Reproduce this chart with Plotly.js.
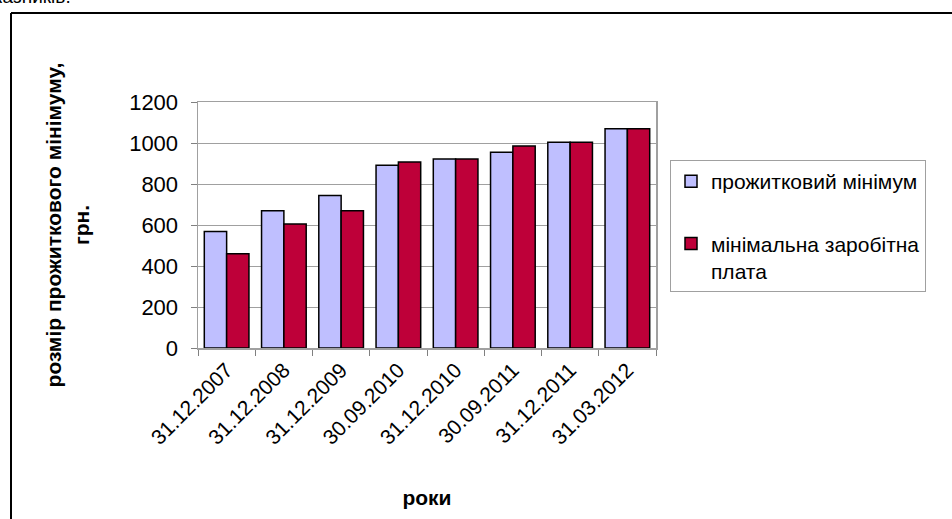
<!DOCTYPE html>
<html>
<head>
<meta charset="utf-8">
<script src="https://cdn.plot.ly/plotly-3.0.1.min.js"></script>
<style>
html,body{margin:0;padding:0;background:#fff;}
#chart{width:952px;height:519px;}
</style>
</head>
<body>
<div id="chart"></div>
<script>
var categories = ['31.12.2007','31.12.2008','31.12.2009','30.09.2010','31.12.2010','30.09.2011','31.12.2011','31.03.2012'];
var subsistenceMinimum = [568, 669, 744, 892, 922, 955, 1004, 1070];
var minimumWage = [460, 605, 669, 907, 922, 985, 1004, 1070];
var seriesNames = ['прожитковий мінімум', 'мінімальна заробітна<br>плата'];
var yTicks = [0, 200, 400, 600, 800, 1000, 1200];

var FONT = 'Liberation Sans, Arial, sans-serif';
// pixel helpers (plot area 198..656 x, 102..348 y)
var L = 198, R = 656, T = 102, B = 348;
function px(x){ return (x - L) / (R - L); }
function py(y){ return (B - y) / (B - T); }

var traces = [
  {type:'bar', x:categories, y:subsistenceMinimum, name:seriesNames[0], legendgroup:'a',
   marker:{color:'#BFBFFF', line:{color:'#000', width:1.5}}},
  {type:'bar', x:categories, y:minimumWage, name:seriesNames[1], legendgroup:'b',
   marker:{color:'#BE0039', line:{color:'#000', width:1.5}}}
];

var layout = {
  width:952, height:519,
  margin:{l:L, r:952-R, t:T, b:519-B},
  paper_bgcolor:'#fff', plot_bgcolor:'#fff',
  font:{family:FONT, color:'#000', size:19},
  barmode:'group', bargap:0.22, bargroupgap:0,
  showlegend:true,
  legend:{x:px(670), y:py(160), xanchor:'left', yanchor:'top',
    bordercolor:'#a0a0a0', borderwidth:1, bgcolor:'#fff',
    font:{family:FONT, size:21, color:'#000'},
    traceorder:'grouped', tracegroupgap:32, valign:'top'},
  xaxis:{type:'category', tickangle:-45, tickson:'boundaries',
    ticks:'outside', ticklen:6, tickcolor:'#808080',
    showline:true, linecolor:'#a0a0a0', linewidth:1.5, mirror:true,
    showgrid:false, automargin:false,
    tickfont:{family:FONT, size:21, color:'#000'},
    title:{text:'<b>роки</b>', font:{family:FONT, size:21, color:'#000'}, standoff:42}},
  yaxis:{range:[0,1200], tickvals:yTicks, ticktext:yTicks.map(String),
    ticks:'outside', ticklen:6, tickcolor:'#808080',
    showline:true, linecolor:'#a0a0a0', linewidth:1.5, mirror:true,
    showgrid:true, gridcolor:'#a0a0a0', gridwidth:1, zeroline:false,
    automargin:false, ticklabelstandoff:8,
    tickfont:{family:FONT, size:22, color:'#000'},
    title:{text:'<b>розмір прожиткового мінімуму,<br>грн.</b>', font:{family:FONT, size:21, color:'#000'}, standoff:34}},
  shapes:[
    {type:'line', xref:'paper', yref:'paper', x0:px(11), x1:px(960), y0:py(13), y1:py(13), line:{color:'#000', width:2}},
    {type:'line', xref:'paper', yref:'paper', x0:px(11), x1:px(11), y0:py(13), y1:py(530), line:{color:'#000', width:2}}
  ],
  annotations:[
    {xref:'paper', yref:'paper', x:px(73), y:py(9), xanchor:'right', yanchor:'bottom',
     text:'показників.', showarrow:false, font:{family:FONT, size:19, color:'#000'}}
  ]
};

Plotly.newPlot('chart', traces, layout, {displayModeBar:false, staticPlot:true});
</script>
</body>
</html>
